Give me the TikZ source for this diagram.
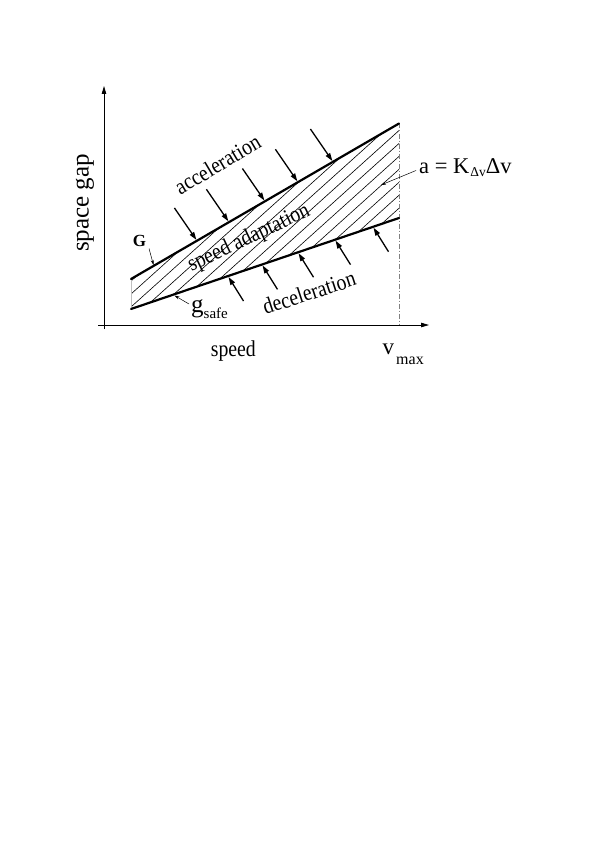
\documentclass[tikz,border=0pt]{standalone}
\usepackage{fontspec}
\setmainfont{Liberation Serif}
\usetikzlibrary{arrows.meta,calc}
\newcommand{\narrowtext}[1]{\scalebox{0.87}[1]{#1}}
\begin{document}
\begin{tikzpicture}[x=1pt,y=-1pt,
  thickline/.style={line width=2.2pt, line cap=round},
  forcearrow/.style={line width=1.3pt, -{Triangle[length=8pt,width=5pt]}},
  pointer/.style={line width=0.5pt, -{Stealth[length=5pt,width=3pt]}},
  axisline/.style={line width=0.8pt, -{Triangle[length=8pt,width=4.5pt]}},
  hatchline/.style={line width=0.6pt},
  lbl/.style={inner sep=0pt, font=\fontsize{22.7}{25}\selectfont},
]
\useasboundingbox (0,0) rectangle (600,848);

% axes
\coordinate (O1) at (104,329);
\coordinate (Ytop) at (104,86);
\coordinate (X0) at (98,325);
\coordinate (Xend) at (429,325);
\draw[axisline] (O1) -- (Ytop);
\draw[axisline] (X0) -- (Xend);

% corners of the band
\coordinate (GL) at (131,279);
\coordinate (GR) at (399,123.5);
\coordinate (SL) at (131,309);
\coordinate (SR) at (399,218);
\coordinate (VB) at (399,325);

% hatching
\begin{scope}
\clip (GL) -- (GR) -- (SR) -- (SL) -- cycle;
\foreach \k in {-8,...,9} {
  \pgfmathsetmacro\cc{186.3+14.39*\k}
  \draw[hatchline] (\cc-150, 444) -- (\cc+250, 84);
}
\end{scope}

\draw[gray, line width=0.8pt, dash pattern=on 5pt off 2pt on 1pt off 2pt] (GR) -- (VB);
\draw[gray!50, line width=0.6pt] (GL) -- (SL);
\draw[thickline] (GL) -- (GR);
\draw[thickline] (SL) -- (SR);

% acceleration arrows
\foreach \n/\tx/\ty in {1/196.4/239.9, 2/228.4/221.3, 3/264.4/200.5, 4/297.4/181.3, 5/332.4/161} {
  \coordinate (at\n) at (\tx,\ty);
  \coordinate (as\n) at ($(at\n)+(-22,-32)$);
  \draw[forcearrow] (as\n) -- (at\n);
}
% deceleration arrows
\foreach \n/\tx/\ty in {1/228.5/277, 2/262.5/265.4, 3/298.5/253.2, 4/335.5/240.6, 5/373.5/227.7} {
  \coordinate (dt\n) at (\tx,\ty);
  \coordinate (ds\n) at ($(dt\n)+(15,24)$);
  \draw[forcearrow] (ds\n) -- (dt\n);
}

% labels
\node[inner sep=0pt, rotate=90, font=\fontsize{25}{28}\selectfont] (ylab) at (85,203) {space gap};
\node[lbl, anchor=base] (xlab) at (233.3,356) {\narrowtext{speed}};
\node[lbl, rotate=30.6] (acc) at (217.5,164.5) {\narrowtext{acceleration}};
\node[lbl, rotate=25.3] (sad) at (249,238.5) {\narrowtext{speed adaptation}};
\node[lbl, rotate=18.1] (dec) at (309,292.5) {\narrowtext{deceleration}};
\node[inner sep=0pt, font=\fontsize{17}{20}\selectfont\bfseries] (Glab) at (139.5,240.5) {G};
\node[inner sep=0pt, anchor=base west, font=\fontsize{25}{25}\selectfont] (glab) at (191,312) {g};
\node[inner sep=0pt, anchor=base west, font=\fontsize{15}{15}\selectfont] (safelab) at (203.5,318.5) {safe};
\node[inner sep=0pt, anchor=base west, font=\fontsize{23}{24}\selectfont] (vlab) at (382.5,354) {v};
\node[inner sep=0pt, anchor=base west, font=\fontsize{16}{16}\selectfont] (maxlab) at (396,364) {max};
\node[inner sep=0pt, anchor=base west, font=\fontsize{22.5}{24}\selectfont] (form) at (419,173)
  {a = K\kern1pt\raisebox{-3.5pt}{\fontsize{13.5}{13.5}\selectfont Δv}Δv};

% pointers
\coordinate (gp1) at (149,248.5);
\coordinate (gp2) at (153.5,265);
\draw[pointer] (gp1) -- (gp2);
\coordinate (sp1) at (189,304);
\coordinate (sp2) at (174.5,295.5);
\draw[pointer] (sp1) -- (sp2);
\coordinate (fp1) at (416,170.5);
\coordinate (fp2) at (381,185);
\draw[pointer] (fp1) -- (fp2);
\end{tikzpicture}
\end{document}
